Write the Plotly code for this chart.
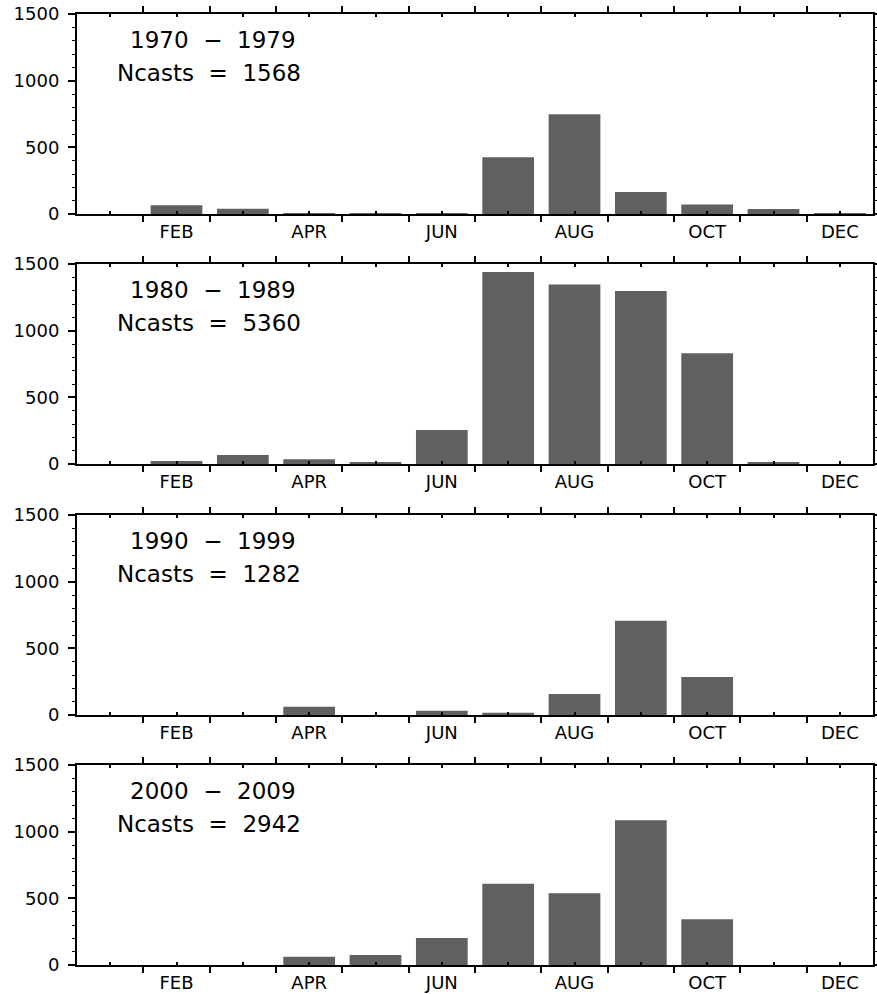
import plotly.graph_objects as go

months = ["JAN", "FEB", "MAR", "APR", "MAY", "JUN", "JUL", "AUG", "SEP", "OCT", "NOV", "DEC"]
month_idx = list(range(1, 13))
tick_text = ["", "FEB", "", "APR", "", "JUN", "", "AUG", "", "OCT", "", "DEC"]

decades = ["1970 \u2212 1979", "1980 \u2212 1989", "1990 \u2212 1999", "2000 \u2212 2009"]
ncasts = [1568, 5360, 1282, 2942]

counts_1970s = [0, 65, 40, 2, 3, 5, 425, 748, 165, 72, 38, 5]
counts_1980s = [0, 22, 68, 35, 10, 255, 1440, 1347, 1297, 830, 10, 0]
counts_1990s = [0, 0, 0, 62, 0, 32, 17, 157, 707, 285, 0, 0]
counts_2000s = [0, 0, 0, 62, 75, 202, 610, 538, 1086, 344, 0, 0]
series = [counts_1970s, counts_1980s, counts_1990s, counts_2000s]

W, H = 877, 994
ml, mr, mt, mb = 77, 4, 14, 28
ph = H - mt - mb
tops = [14, 264, 515, 765]
panel_h = 200

fig = go.Figure()
font_family = "DejaVu Sans"
layout = dict(
    width=W, height=H,
    margin=dict(l=ml, r=mr, t=mt, b=mb, autoexpand=False),
    paper_bgcolor="white", plot_bgcolor="white",
    showlegend=False, bargap=0.22,
    font=dict(family=font_family, size=18, color="black"),
)
annotations = []
for i, vals in enumerate(series):
    n = i + 1
    xa = "x" if n == 1 else f"x{n}"
    ya = "y" if n == 1 else f"y{n}"
    fig.add_trace(go.Bar(x=month_idx, y=vals, xaxis=xa, yaxis=ya,
                         marker=dict(color="#606060", line=dict(width=0)),
                         hoverinfo="skip"))
    top = tops[i]
    bot = top + panel_h
    d0 = (H - mb - bot) / ph
    d1 = (H - mb - top) / ph
    layout["xaxis" if n == 1 else f"xaxis{n}"] = dict(
        domain=[0, 1], anchor=ya, range=[0.5, 12.5], automargin=False,
        tickmode="array", tickvals=month_idx, ticktext=tick_text,
        ticks="inside", ticklen=3, tickwidth=1.5, tickcolor="black",
        showline=True, linecolor="black", linewidth=2, mirror="ticks",
        showgrid=False, zeroline=False, ticklabelstandoff=0,
        tickfont=dict(family=font_family, size=18, color="black"),
        minor=dict(tickmode="linear", tick0=0.5, dtick=1, ticks="outside",
                   ticklen=6, tickwidth=1.5, tickcolor="black", showgrid=False),
    )
    layout["yaxis" if n == 1 else f"yaxis{n}"] = dict(
        domain=[d0, d1], anchor=xa, range=[0, 1500], automargin=False,
        tickmode="array", tickvals=[0, 500, 1000, 1500],
        ticks="outside", ticklen=7, tickwidth=1.5, tickcolor="black",
        showline=True, linecolor="black", linewidth=2, mirror="ticks",
        showgrid=False, zeroline=False, ticklabelstandoff=5,
        tickfont=dict(family=font_family, size=18, color="black"),
        minor=dict(tickmode="linear", tick0=0, dtick=100, ticks="outside",
                   ticklen=3, tickwidth=1, tickcolor="black", showgrid=False),
    )
    annotations.append(dict(
        text=decades[i].replace(" ", "\u00a0\u00a0"),
        xref=f"{xa} domain", yref=f"{ya} domain", x=0.064, y=0.87,
        xanchor="left", yanchor="middle", showarrow=False,
        font=dict(family=font_family, size=23, color="black")))
    annotations.append(dict(
        text=f"Ncasts\u00a0\u00a0=\u00a0\u00a0{ncasts[i]}",
        xref=f"{xa} domain", yref=f"{ya} domain", x=0.048, y=0.705,
        xanchor="left", yanchor="middle", showarrow=False,
        font=dict(family=font_family, size=23, color="black")))
layout["annotations"] = annotations
fig.update_layout(**layout)
fig.write_html("out.html", config={"displayModeBar": False},
               post_script="document.body.style.margin='0';document.body.style.overflow='hidden';")
